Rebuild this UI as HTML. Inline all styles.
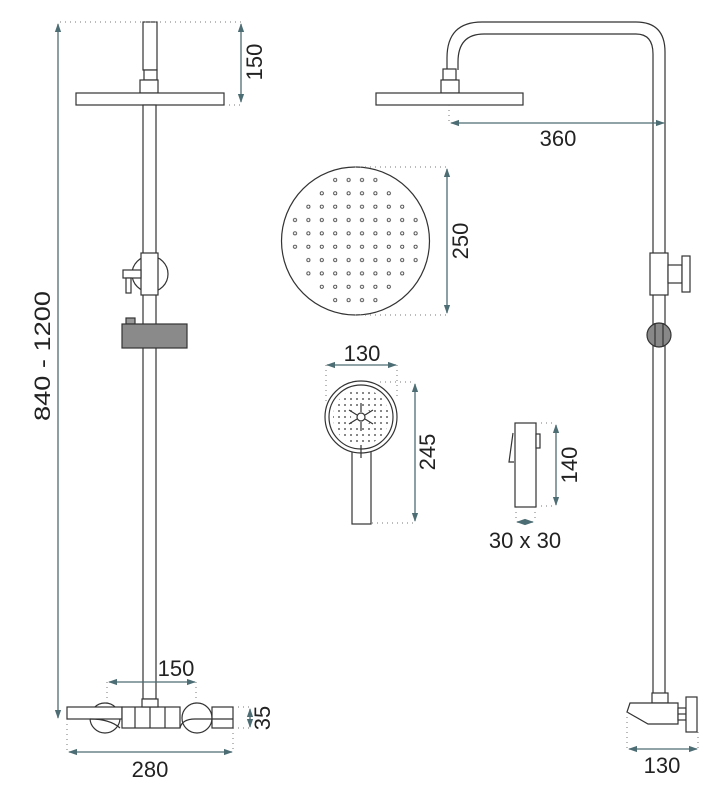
<!DOCTYPE html>
<html><head><meta charset="utf-8"><style>
html,body{margin:0;padding:0;background:#fff;}
svg{display:block;}
text{font-family:"Liberation Sans",sans-serif;fill:#222;font-size:22px;}
</style></head><body>
<svg width="717" height="795" viewBox="0 0 717 795" xmlns="http://www.w3.org/2000/svg">
<defs>
<marker id="a" viewBox="0 0 10 10" refX="9" refY="5" markerWidth="7" markerHeight="7" orient="auto-start-reverse"><path d="M0,1.5 L10,5 L0,8.5 z" fill="#4d6d74"/></marker>
<pattern id="dots" patternUnits="userSpaceOnUse" x="288.3" y="173.3" width="13.4" height="13.35"><circle cx="6.7" cy="6.7" r="1.6" fill="none" stroke="#333" stroke-width="0.8"/></pattern>
<pattern id="hd" patternUnits="userSpaceOnUse" x="0" y="0" width="6" height="6"><circle cx="3" cy="3" r="0.9" fill="#333"/></pattern>
<clipPath id="hc"><circle cx="361" cy="417" r="28"/></clipPath>
</defs>
<g fill="none" stroke="#333" stroke-width="1.2">
<rect x="143" y="22" width="14" height="48" fill="#fff"/>
<rect x="144" y="70" width="13" height="10" fill="#fff"/>
<rect x="140" y="80" width="18" height="13" fill="#fff"/>
<rect x="76" y="93" width="148" height="12" fill="#fff"/>
<rect x="143" y="105" width="13" height="594" fill="#fff"/>
<circle cx="150" cy="274" r="18" fill="#fff"/>
<rect x="141" y="253" width="17" height="42" fill="#fff"/>
<rect x="123" y="270" width="18" height="8" fill="#fff"/>
<rect x="126" y="278" width="5" height="15" fill="#fff"/>
<rect x="126" y="318" width="9" height="6" fill="#999"/>
<rect x="122" y="324" width="65" height="24" fill="#8a8a8a"/>
<circle cx="105" cy="718" r="15" fill="#fff"/>
<circle cx="197" cy="718" r="15" fill="#fff"/>
<rect x="67" y="707" width="55" height="12" fill="#fff"/>
<rect x="122" y="707" width="58" height="21" fill="#fff"/>
<line x1="135" y1="707" x2="135" y2="728"/><line x1="150" y1="707" x2="150" y2="728"/><line x1="165" y1="707" x2="165" y2="728"/>
<path d="M90,719 Q110,719 120,728" />
<rect x="212" y="707" width="21" height="21" fill="#fff"/>
<path d="M180,728 Q182,719 195,719 L233,719"/>
<rect x="142" y="699" width="16" height="8" fill="#fff"/>
<path d="M447,70 L447,58 Q447,22 482,22 L636,22 Q665,22 665,52 L665,693"/>
<path d="M458,70 L458,62 Q458,34 484,34 L636,34 Q653,34 653,54 L653,693"/>
<rect x="443" y="69" width="13" height="11" fill="#fff"/>
<rect x="441" y="80" width="18" height="13" fill="#fff"/>
<rect x="376" y="93" width="147" height="12" fill="#fff"/>
<rect x="650" y="253" width="18" height="42" fill="#fff"/>
<rect x="668" y="265" width="14" height="18" fill="#fff"/>
<rect x="682" y="256" width="8" height="36" fill="#fff"/>
<circle cx="659" cy="335" r="12" fill="#888"/>
<line x1="655" y1="323" x2="655" y2="347"/><line x1="663" y1="323" x2="663" y2="347"/>
<rect x="652" y="693" width="16" height="10" fill="#fff"/>
<path d="M630,703 L678,703 L678,724 L648,724 L627,712 z" fill="#fff"/>
<rect x="678" y="708" width="8" height="12" fill="#fff"/>
<line x1="678" y1="714" x2="686" y2="714"/>
<rect x="686" y="697" width="11" height="35" fill="#fff"/>
<circle cx="355.5" cy="241" r="74" fill="#fff"/>
<rect x="352" y="451" width="19" height="73" fill="#fff"/>
<circle cx="361" cy="417" r="36" fill="#fff"/>
<circle cx="361" cy="417" r="32"/>
<line x1="361" y1="445" x2="361" y2="458"/>
<rect x="515" y="423" width="21" height="84" fill="#fff"/>
<path d="M513,433 L509,462 L514,462"/>
<rect x="536" y="434" width="4" height="14" fill="#fff"/>
</g>
<g fill="url(#dots)">
<rect x="328.5" y="173.3" width="53.6" height="13.35"/>
<rect x="315.1" y="186.65" width="80.4" height="13.35"/>
<rect x="301.7" y="200" width="107.2" height="13.35"/>
<rect x="288.3" y="213.35" width="134" height="40.05"/>
<rect x="301.7" y="253.4" width="120.6" height="13.35"/>
<rect x="301.7" y="266.75" width="107.2" height="13.35"/>
<rect x="315.1" y="280.1" width="80.4" height="13.35"/>
<rect x="328.5" y="293.45" width="53.6" height="13.35"/>
</g>
<rect x="330" y="386" width="62" height="62" fill="url(#hd)" clip-path="url(#hc)"/>
<circle cx="361" cy="417" r="10" fill="#fff"/>
<g stroke="#333" stroke-width="1.2" fill="#fff">
<circle cx="361" cy="417" r="4"/>
<line x1="361" y1="403" x2="361" y2="412"/><line x1="361" y1="422" x2="361" y2="431"/>
<line x1="349" y1="410" x2="357" y2="415"/><line x1="365" y1="419" x2="373" y2="424"/>
<line x1="349" y1="424" x2="357" y2="419"/><line x1="365" y1="415" x2="373" y2="410"/>
</g>
<g stroke="#4d6d74" stroke-width="1.3" fill="none">
<line x1="58" y1="24" x2="58" y2="718" marker-start="url(#a)" marker-end="url(#a)"/>
<line x1="241" y1="24" x2="241" y2="102" marker-start="url(#a)" marker-end="url(#a)"/>
<line x1="109" y1="682" x2="195" y2="682" marker-start="url(#a)" marker-end="url(#a)"/>
<line x1="250" y1="709" x2="250" y2="727" marker-start="url(#a)" marker-end="url(#a)"/>
<line x1="69" y1="752" x2="232" y2="752" marker-start="url(#a)" marker-end="url(#a)"/>
<line x1="451" y1="123" x2="664" y2="123" marker-start="url(#a)" marker-end="url(#a)"/>
<line x1="447" y1="169" x2="447" y2="313" marker-start="url(#a)" marker-end="url(#a)"/>
<line x1="327" y1="365" x2="396" y2="365" marker-start="url(#a)" marker-end="url(#a)"/>
<line x1="415" y1="384" x2="415" y2="521" marker-start="url(#a)" marker-end="url(#a)"/>
<line x1="556" y1="425" x2="556" y2="505" marker-start="url(#a)" marker-end="url(#a)"/>
<line x1="517" y1="522" x2="533" y2="522" marker-start="url(#a)" marker-end="url(#a)"/>
<line x1="629" y1="749" x2="697" y2="749" marker-start="url(#a)" marker-end="url(#a)"/>
</g>
<g stroke="#777" stroke-width="1" stroke-dasharray="1,4" fill="none">
<line x1="60" y1="22" x2="242" y2="22"/>
<line x1="224" y1="105" x2="242" y2="105"/>
<line x1="107" y1="682" x2="107" y2="707"/><line x1="196" y1="682" x2="196" y2="707"/>
<line x1="233" y1="707" x2="252" y2="707"/><line x1="233" y1="728" x2="252" y2="728"/>
<line x1="67" y1="719" x2="67" y2="752"/><line x1="233" y1="728" x2="233" y2="752"/>
<line x1="449" y1="105" x2="449" y2="123"/>
<line x1="355" y1="167" x2="447" y2="167"/><line x1="355" y1="315" x2="447" y2="315"/>
<line x1="326" y1="365" x2="326" y2="405"/><line x1="397" y1="365" x2="397" y2="400"/>
<line x1="380" y1="382" x2="415" y2="382"/><line x1="372" y1="523" x2="415" y2="523"/>
<line x1="536" y1="423" x2="556" y2="423"/><line x1="536" y1="506" x2="556" y2="506"/>
<line x1="516" y1="507" x2="516" y2="522"/><line x1="535" y1="507" x2="535" y2="522"/>
<line x1="627" y1="712" x2="627" y2="749"/><line x1="698" y1="732" x2="698" y2="749"/>
</g>
<text x="44" y="356" text-anchor="middle" textLength="130" lengthAdjust="spacingAndGlyphs" transform="rotate(-90 44 356)" dominant-baseline="middle">840 - 1200</text>
<text x="256" y="62" text-anchor="middle" transform="rotate(-90 256 62)" dominant-baseline="middle">150</text>
<text x="176" y="676" text-anchor="middle">150</text>
<text x="264" y="718" text-anchor="middle" transform="rotate(-90 264 718)" dominant-baseline="middle">35</text>
<text x="150" y="777" text-anchor="middle">280</text>
<text x="558" y="146" text-anchor="middle">360</text>
<text x="462" y="241" text-anchor="middle" transform="rotate(-90 462 241)" dominant-baseline="middle">250</text>
<text x="362" y="361" text-anchor="middle">130</text>
<text x="429" y="452" text-anchor="middle" transform="rotate(-90 429 452)" dominant-baseline="middle">245</text>
<text x="571" y="465" text-anchor="middle" transform="rotate(-90 571 465)" dominant-baseline="middle">140</text>
<text x="525" y="548" text-anchor="middle">30 x 30</text>
<text x="662" y="773" text-anchor="middle">130</text>
</svg>
</body></html>
